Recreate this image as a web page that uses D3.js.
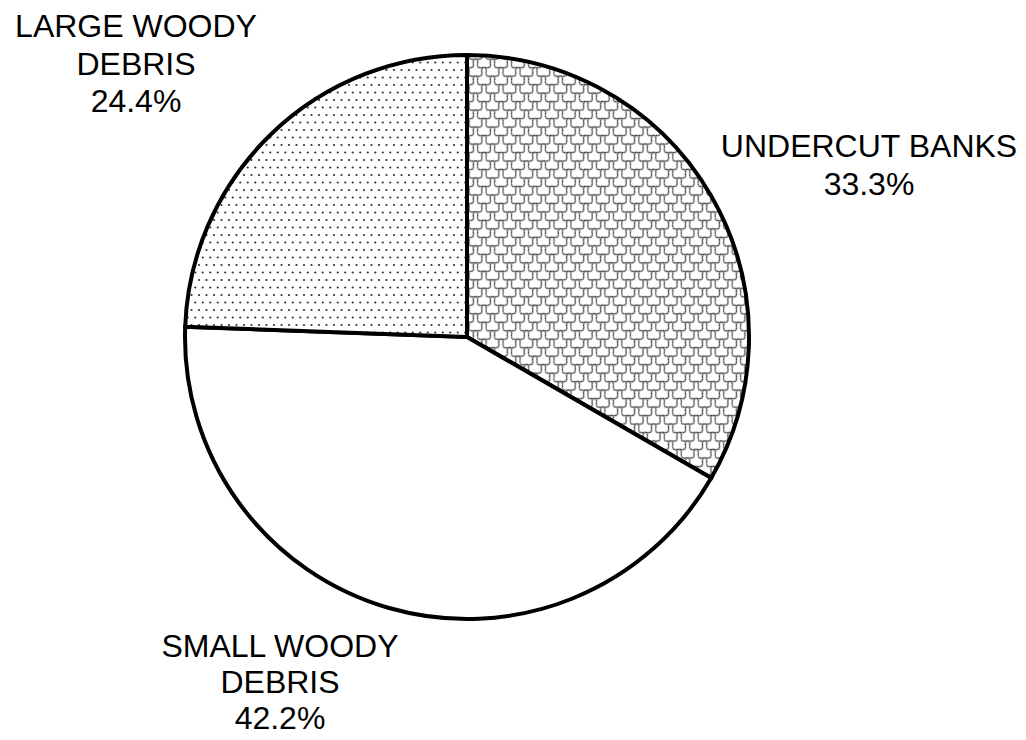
<!DOCTYPE html>
<html><head><meta charset="utf-8">
<script src="https://cdn.jsdelivr.net/npm/d3@7"></script>
<style>body{margin:0;background:#fff}svg{display:block}</style>
</head><body>
<svg id="c" width="1026" height="740"></svg>
<script>
const categories = ["UNDERCUT BANKS", "SMALL WOODY DEBRIS", "LARGE WOODY DEBRIS"];
const values = [33.3, 42.2, 24.4];
const labelLines = [["UNDERCUT BANKS", "33.3%"], ["SMALL WOODY", "DEBRIS", "42.2%"], ["LARGE WOODY", "DEBRIS", "24.4%"]];
const fills = ["url(#hatch)", "#ffffff", "url(#dots)"];

const svg = d3.select("#c");
const cx = 467, cy = 337, r = 282;
const defs = svg.append("defs");
const dots = defs.append("pattern").attr("id", "dots").attr("patternUnits", "userSpaceOnUse")
  .attr("width", 15).attr("height", 15);
dots.append("rect").attr("width", 15).attr("height", 15).attr("fill", "#fff");
[[2, 3], [9.5, 3], [5.75, 10.5], [13.25, 10.5]].forEach(([x, y]) =>
  dots.append("circle").attr("cx", x).attr("cy", y).attr("r", 1.1).attr("fill", "#333"));

const hatch = defs.append("pattern").attr("id", "hatch").attr("patternUnits", "userSpaceOnUse")
  .attr("width", 12).attr("height", 12).attr("patternTransform", "rotate(45)");
hatch.append("rect").attr("x", -1).attr("y", -1).attr("width", 14).attr("height", 14).attr("fill", "#fff");
hatch.append("path")
  .attr("d", "M0,3 C2,0 4,0 6,3 C8,6 10,6 12,3 M3,0 C0,2 0,4 3,6 C6,8 6,10 3,12")
  .attr("fill", "none").attr("stroke", "#333").attr("stroke-width", 1.1);

const pie = d3.pie().sort(null).value(d => d)(values);
const arc = d3.arc().innerRadius(0).outerRadius(r);
const g = svg.append("g").attr("transform", `translate(${cx},${cy})`);
g.selectAll("path").data(pie).join("path")
  .attr("d", arc)
  .attr("fill", (d, i) => fills[i])
  .attr("stroke", "#000").attr("stroke-width", 4).attr("stroke-linejoin", "miter");

const labelPos = [[869, 157], [280, 657], [136, 37]];
const lineGap = [37.5, 36, 37.5];
labelLines.forEach((lines, i) => {
  const t = svg.append("text").attr("text-anchor", "middle")
    .attr("font-family", "Liberation Sans, Arial, sans-serif").attr("font-size", 32).attr("fill", "#000");
  lines.forEach((s, j) => t.append("tspan").attr("x", labelPos[i][0]).attr("y", labelPos[i][1] + j * lineGap[i]).text(s));
});
</script>
</body></html>
